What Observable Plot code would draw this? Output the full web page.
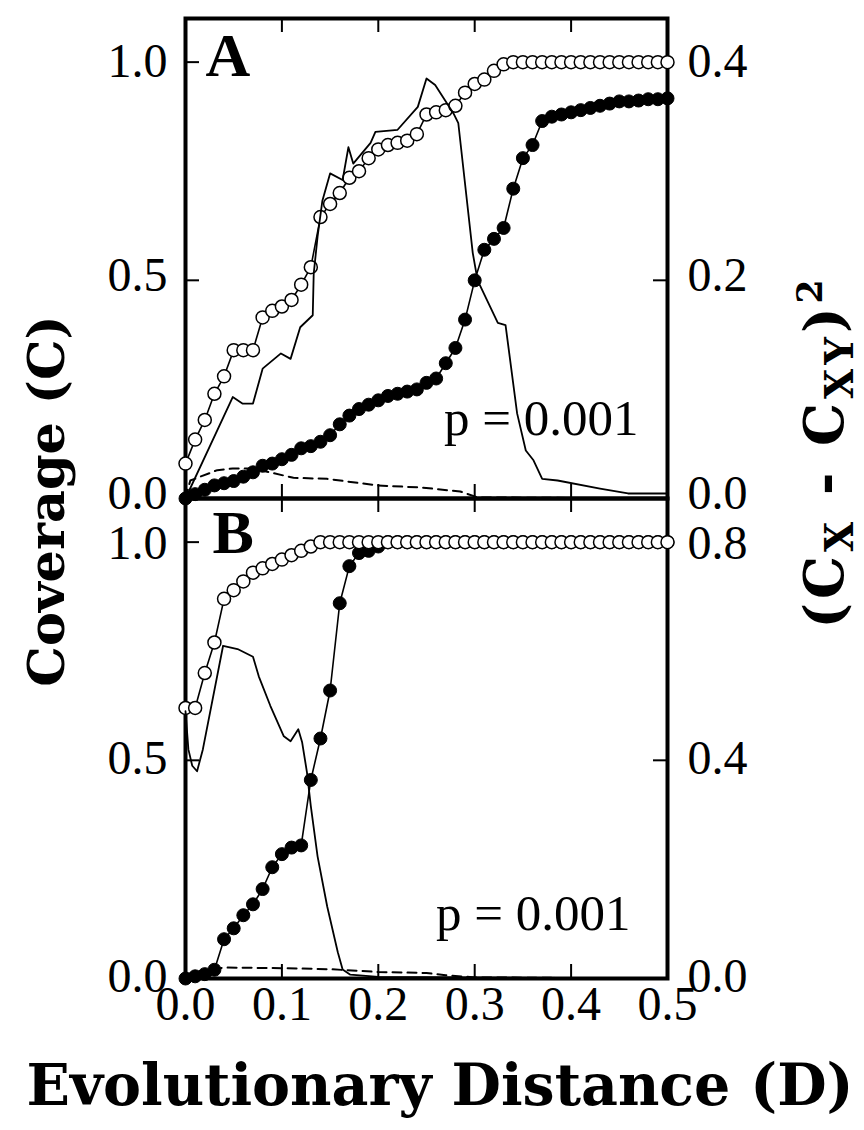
<!DOCTYPE html>
<html><head><meta charset="utf-8">
<script src="https://cdn.jsdelivr.net/npm/d3@7"></script>
<script src="https://cdn.jsdelivr.net/npm/@observablehq/plot@0.6"></script>
<style>
body{margin:0;background:#fff;}
#wrap{position:relative;width:864px;height:1130px;overflow:hidden;background:#fff;}
#wrap svg{position:absolute;left:0;}
.title{position:absolute;font-family:"DejaVu Serif",serif;font-weight:bold;white-space:nowrap;color:#000;line-height:1;}
.title sub{font-size:0.72em;vertical-align:-0.26em;line-height:0;}
.title sup{font-size:0.64em;vertical-align:0.62em;line-height:0;}
</style></head><body><div id="wrap"></div>
<script>
// Evolutionary distance grid of the circle series
const distance = [0,0.01,0.02,0.03,0.04,0.05,0.06,0.07,0.08,0.09,0.1,0.11,0.12,0.13,0.14,0.15,0.16,0.17,0.18,0.19,0.2,0.21,0.22,0.23,0.24,0.25,0.26,0.27,0.28,0.29,0.3,0.31,0.32,0.33,0.34,0.35,0.36,0.37,0.38,0.39,0.4,0.41,0.42,0.43,0.44,0.45,0.46,0.47,0.48,0.49,0.5];

// Panel A coverage (open and filled circles)
const openA = [0.08,0.135,0.18,0.24,0.28,0.34,0.34,0.34,0.415,0.43,0.44,0.455,0.49,0.53,0.645,0.675,0.70,0.735,0.75,0.78,0.80,0.81,0.815,0.82,0.835,0.88,0.885,0.89,0.90,0.93,0.95,0.96,0.98,0.995,1,1,1,1,1,1,1,1,1,1,1,1,1,1,1,1,1];
const filledA = [0,0.01,0.02,0.03,0.035,0.04,0.05,0.06,0.075,0.08,0.09,0.10,0.115,0.12,0.13,0.145,0.17,0.19,0.205,0.215,0.225,0.235,0.24,0.245,0.25,0.265,0.275,0.31,0.345,0.41,0.50,0.57,0.595,0.62,0.71,0.78,0.81,0.865,0.875,0.88,0.885,0.89,0.895,0.90,0.905,0.91,0.91,0.912,0.915,0.915,0.917];

// Panel A squared difference (right axis)
const solidAx = [0,0.049,0.059,0.07,0.08,0.099,0.109,0.119,0.132,0.133,0.137,0.142,0.15,0.163,0.169,0.174,0.192,0.197,0.22,0.241,0.25,0.259,0.278,0.283,0.298,0.303,0.324,0.332,0.344,0.353,0.361,0.37,0.386,0.43,0.459,0.5];
const solidAv = [0,0.093,0.087,0.087,0.119,0.133,0.128,0.157,0.168,0.206,0.24,0.273,0.298,0.292,0.322,0.307,0.326,0.336,0.338,0.359,0.385,0.379,0.353,0.344,0.225,0.2,0.161,0.159,0.078,0.044,0.035,0.018,0.0165,0.009,0.0046,0.0046];
const dashAx = [0,0.005,0.033,0.049,0.07,0.112,0.147,0.199,0.246,0.285,0.303,0.5];
const dashAv = [0,0.0165,0.026,0.0275,0.0275,0.019,0.018,0.012,0.010,0.0064,0.001,0];

// Panel B coverage
const openB = [0.62,0.62,0.70,0.77,0.87,0.89,0.91,0.93,0.94,0.95,0.96,0.97,0.98,0.99,1,1,1,1,1,1,1,1,1,1,1,1,1,1,1,1,1,1,1,1,1,1,1,1,1,1,1,1,1,1,1,1,1,1,1,1,1];
const filledB = [0,0.005,0.01,0.02,0.09,0.115,0.145,0.17,0.205,0.255,0.285,0.30,0.305,0.455,0.55,0.66,0.86,0.945,0.975,0.98,0.99,1,1,1,1,1,1,1,1,1,1,1,1,1,1,1,1,1,1,1,1,1,1,1,1,1,1,1,1,1,1];

// Panel B squared difference (right axis)
const solidBx = [0,0.003,0.007,0.012,0.018,0.039,0.054,0.07,0.076,0.088,0.102,0.109,0.117,0.121,0.126,0.13,0.137,0.147,0.158,0.163,0.171,0.2,0.5];
const solidBv = [0.49,0.42,0.39,0.38,0.42,0.61,0.604,0.59,0.554,0.5,0.444,0.435,0.457,0.433,0.378,0.316,0.224,0.132,0.048,0.0165,0.007,0.003,0];
const dashBx = [0,0.005,0.04,0.1,0.15,0.2,0.25,0.27,0.3,0.5];
const dashBv = [0,0.01,0.02,0.019,0.017,0.012,0.01,0.006,0.002,0];

// Axis ticks and labels
const xTicks = [0,0.1,0.2,0.3,0.4,0.5];
const leftTicks = [0,0.5,1.0];
const rightTicksA = [0,0.2,0.4];
const rightTicksB = [0,0.4,0.8];
const rightMaxA = 0.4, rightMaxB = 0.8;
const panelLabels = ["A","B"];
const pText = "p = 0.001";

const serif = "'Liberation Serif','Times New Roman',serif";
const W = 864, ML = 185, MR = 197;
const plotW = W - ML - MR;
const tickLen = 14;

function panel({open, filled, sx, sv, dx, dv, rmax, rticks, label, labelDx, labelDy, pDx, pDy, top, height, mt, mb, showX, yLabelDy, topLabelDy}) {
  const plotH = height - mt - mb;
  const rows = distance.map((d,i)=>({d, open: open[i], filled: filled[i]}));
  const solid = sx.map((x,i)=>({x, v: sv[i]}));
  const dash = dx.map((x,i)=>({x, v: dv[i]}));
  const innerX = xTicks.slice(1,-1);
  const innerY = leftTicks.slice(1);
  const rPos = rticks.map(v=>v/rmax);
  const yAxis = (anchor, ticks, dy, fmt, pad) => Plot.axisY({anchor, ticks, tickSize:0, tickPadding:pad, dy, tickFormat: fmt, label:null, fontSize:48});
  const fmtL = d=>d.toFixed(1), fmtR = d=>(d*rmax).toFixed(1);
  const marks = [
    Plot.frame({stroke:"black", strokeWidth:4}),
    Plot.tickX(innerX, {x: d=>d, insetTop: plotH - tickLen, strokeWidth:2}),
    Plot.tickX(innerX, {x: d=>d, insetBottom: plotH - tickLen, strokeWidth:2}),
    Plot.tickY(innerY, {y: d=>d, insetRight: plotW - tickLen, strokeWidth:2}),
    Plot.tickY(rPos.slice(1), {y: d=>d, insetLeft: plotW - tickLen, strokeWidth:2}),
    yAxis("left", leftTicks.slice(0,-1), yLabelDy, fmtL, 18),
    yAxis("left", leftTicks.slice(-1), topLabelDy, fmtL, 18),
    yAxis("right", rPos.slice(0,-1), yLabelDy, fmtR, 20),
    yAxis("right", rPos.slice(-1), topLabelDy, fmtR, 20),
    Plot.line(dash, {x:"x", y: d=>d.v/rmax, stroke:"black", strokeWidth:2, strokeDasharray:"9,6"}),
    Plot.line(rows, {x:"d", y:"filled", stroke:"black", strokeWidth:1.6}),
    Plot.dot(rows, {x:"d", y:"filled", r:6.5, fill:"black", stroke:"black", strokeWidth:1}),
    Plot.line(rows, {x:"d", y:"open", stroke:"black", strokeWidth:1.6}),
    Plot.dot(rows, {x:"d", y:"open", r:6.5, fill:"white", stroke:"black", strokeWidth:1.5}),
    Plot.line(solid, {x:"x", y: d=>d.v/rmax, stroke:"black", strokeWidth:1.8}),
    Plot.text([label], {text: d=>d, frameAnchor:"top-left", textAnchor:"start", lineAnchor:"top", dx: labelDx, dy: labelDy, fontSize:62, fontWeight:"bold", fontFamily: serif}),
    Plot.text([pText], {text: d=>d, frameAnchor:"bottom-right", textAnchor:"end", lineAnchor:"middle", dx: pDx, dy: pDy, fontSize:51, fontFamily: serif})
  ];
  if (showX) marks.push(Plot.axisX({anchor:"bottom", ticks: xTicks, tickSize:0, tickPadding:7, tickFormat: d=>d.toFixed(1), label:null, fontSize:48}));
  const svg = Plot.plot({
    width: W, height, marginLeft: ML, marginRight: MR, marginTop: mt, marginBottom: mb,
    x: {domain:[0,0.5], axis: showX ? undefined : null},
    y: {domain:[0,1.1]},
    style: {fontFamily: serif, fontSize:"48px", color:"black", background:"transparent", overflow:"visible"},
    marks
  });
  svg.style.top = top + "px";
  return svg;
}

const wrap = document.getElementById("wrap");
wrap.appendChild(panel({open: openA, filled: filledA, sx: solidAx, sv: solidAv, dx: dashAx, dv: dashAv,
  rmax: rightMaxA, rticks: rightTicksA, label: panelLabels[0], labelDx: 20, labelDy: 13, pDx: -29, pDy: -80,
  top: 0, height: 500, mt: 18, mb: 2, showX: false, yLabelDy: -5, topLabelDy: -1}));
wrap.appendChild(panel({open: openB, filled: filledB, sx: solidBx, sv: solidBv, dx: dashBx, dv: dashBv,
  rmax: rightMaxB, rticks: rightTicksB, label: panelLabels[1], labelDx: 27, labelDy: 10, pDx: -37, pDy: -65,
  top: 480, height: 560, mt: 18, mb: 62, showX: true, yLabelDy: -2, topLabelDy: 1}));

function addTitle(html, css) {
  const d = document.createElement("div");
  d.className = "title";
  d.innerHTML = html;
  Object.assign(d.style, css);
  wrap.appendChild(d);
}
addTitle("Coverage (C)", {left:"46px", top:"501px", fontSize:"51px", transform:"translate(-50%,-50%) rotate(-90deg)"});
addTitle("(C<sub>X</sub> - C<sub>XY</sub>)<sup>2</sup>", {left:"824px", top:"452px", fontSize:"54px", letterSpacing:"4px", transform:"translate(-50%,-50%) rotate(-90deg)"});
addTitle("Evolutionary Distance (D)", {left:"440px", top:"1084px", fontSize:"57px", transform:"translate(-50%,-50%)"});
</script>
</body></html>
